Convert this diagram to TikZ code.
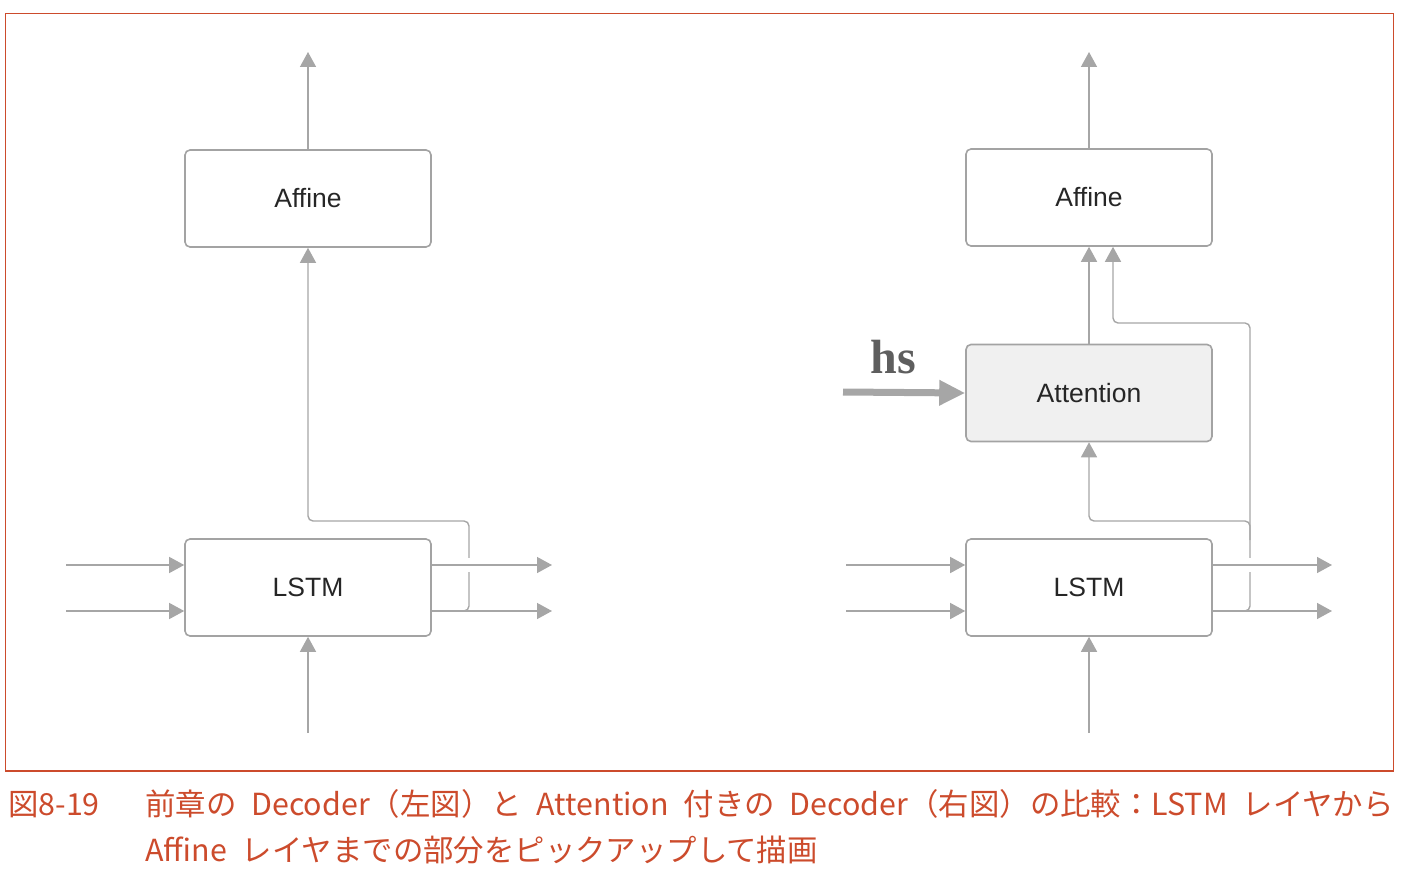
\documentclass[tikz,border=0pt]{standalone}
\usepackage{fontspec}
\setmainfont{Liberation Sans}
\newfontfamily\jpfont[WordSpace=2.2]{Noto Sans CJK JP}
\newfontfamily\hsfont{Liberation Serif}
\usetikzlibrary{arrows.meta}
\definecolor{linegray}{HTML}{A6A6A6}
\definecolor{boxgray}{HTML}{A3A3A3}
\definecolor{attfill}{HTML}{F0F0F0}
\definecolor{capred}{HTML}{CC4B2C}
\definecolor{hsgray}{HTML}{5E5E5E}

\begin{document}
\begin{tikzpicture}[x=1pt,y=-1pt,
  box/.style={draw=boxgray,line width=1.6pt,rounded corners=5pt,minimum width=246pt,minimum height=97pt,font=\fontsize{26.5}{30}\selectfont,text=black!85},
  conn/.style={draw=linegray,line width=1.4pt,-{Triangle[width=16pt,length=15pt]}},
  wire/.style={conn,rounded corners=5pt},
  gap/.style={draw=white,line width=14pt},
  caption/.style={text=capred,font=\jpfont\fontsize{30.4}{36}\selectfont,anchor=base west,inner sep=0pt}]

\useasboundingbox (0,0) rectangle (1418,882);
\draw[capred,line width=1.2pt] (5.5,13.5) rectangle (1393.5,771);

\node[box] (affL) at (308,198.5) {Affine};
\node[box] (lstmL) at (308,587.5) {LSTM};

\node[box] (affR) at (1089,197.5) {Affine};
\node[box,fill=attfill] (attR) at (1089,393) {Attention};
\node[box] (lstmR) at (1089,587.5) {LSTM};

\coordinate (topL) at (308,52);
\coordinate (botL) at (308,733);
\coordinate (inL1) at (66,565);
\coordinate (inL2) at (66,611);
\coordinate (outL1) at (552,565);
\coordinate (outL2) at (552,611);
\coordinate (topR) at (1089,52);
\coordinate (botR) at (1089,733);
\coordinate (inR1) at (846,565);
\coordinate (inR2) at (846,611);
\coordinate (outR1) at (1332,565);
\coordinate (outR2) at (1332,611);
\coordinate (hsin) at (843,392);

\draw[conn] (affL.north) -- (topL);
\draw[conn] (botL) -- (lstmL.south);
\draw[conn] (inL1) -- (inL1 -| lstmL.west);
\draw[conn] (inL2) -- (inL2 -| lstmL.west);
\draw[wire] (outL2 -| lstmL.east) -- (469,611) -- (469,521) -| (affL.south);
\draw[gap] (462,565) -- (476,565);
\draw[conn] (outL1 -| lstmL.east) -- (outL1);
\draw[conn] (outL2 -| lstmL.east) -- (outL2);

\draw[conn] (affR.north) -- (topR);
\draw[conn] (attR.north) -- (affR.south);
\draw[conn] (botR) -- (lstmR.south);
\draw[conn] (inR1) -- (inR1 -| lstmR.west);
\draw[conn] (inR2) -- (inR2 -| lstmR.west);
\draw[wire] (outR2 -| lstmR.east) -- (1250,611) -- (1250,323) -| ([xshift=24pt]affR.south);
\draw[wire] (1250,540) -- (1250,521) -| (attR.south);
\draw[gap] (1243,565) -- (1257,565);
\draw[conn] (outR1 -| lstmR.east) -- (outR1);
\draw[conn] (outR2 -| lstmR.east) -- (outR2);

\node[font=\hsfont\bfseries\fontsize{48}{52}\selectfont,text=hsgray] (hs) at (893,357) {hs};
\draw[draw=linegray,line width=7pt,-{Triangle[width=24pt,length=26pt]}] (hsin) -- (attR.west);

\node[caption] (capnum) at (8,815) {図8-19};
\node[caption] (capl1) at (145,815) {前章の Decoder（左図）と Attention 付きの Decoder（右図）の比較：LSTM レイヤから};
\node[caption] (capl2) at (145,861) {Affine レイヤまでの部分をピックアップして描画};

\end{tikzpicture}
\end{document}
